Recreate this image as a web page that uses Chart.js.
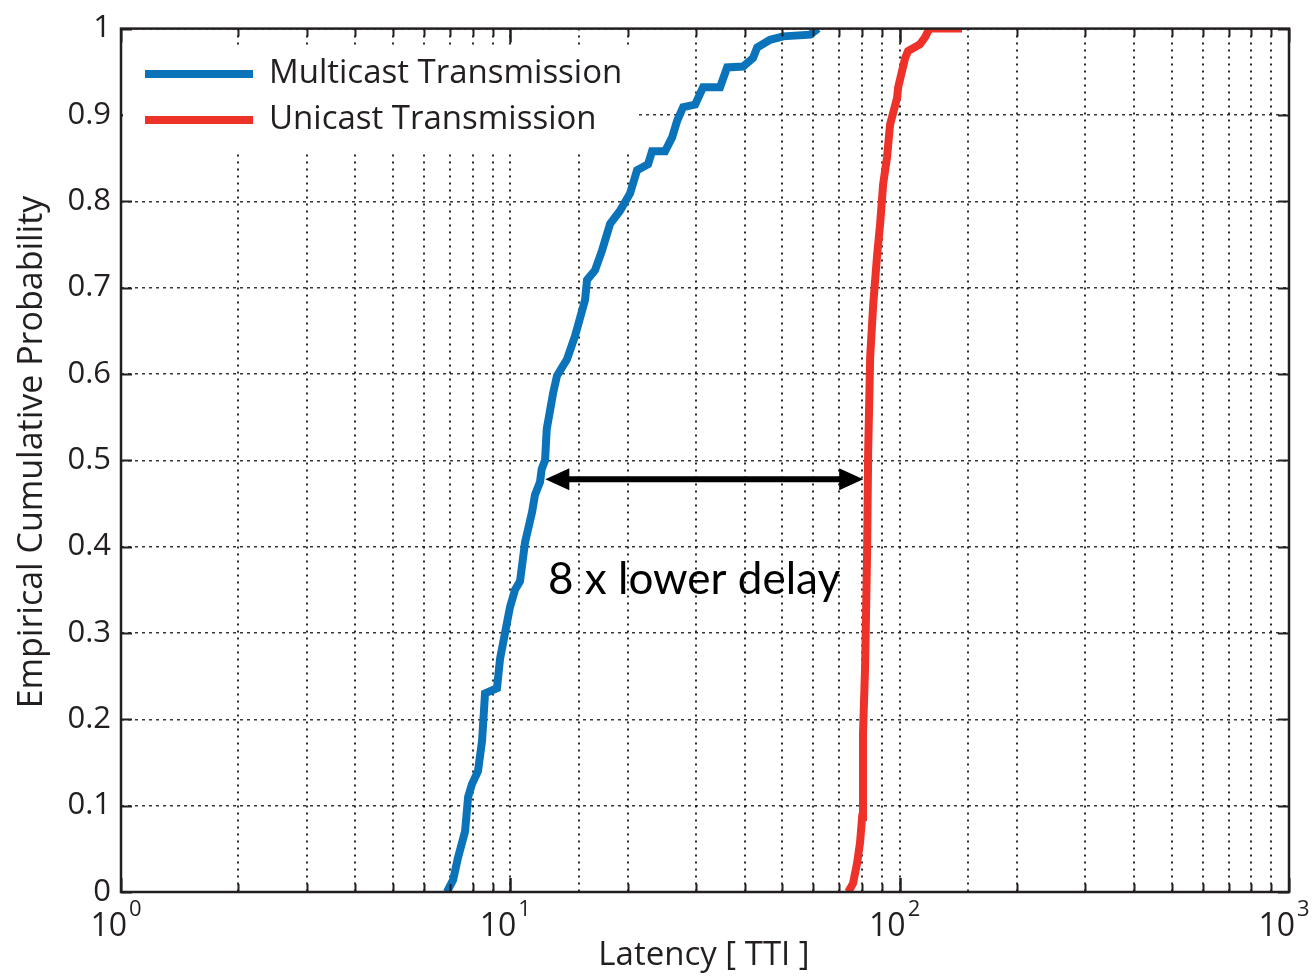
<!DOCTYPE html>
<html>
<head>
<meta charset="utf-8">
<title>Latency CDF</title>
<script src="https://cdn.jsdelivr.net/npm/chart.js@4.4.1/dist/chart.umd.min.js"></script>
<style>
  html, body { margin: 0; padding: 0; background: #ffffff; }
  #wrap { width: 1316px; height: 978px; position: relative; }
</style>
</head>
<body>
<div id="wrap"><canvas id="cdfChart" width="1316" height="978"></canvas></div>
<script>
"use strict";

// ============================================
// DATA
// ============================================
var multicastLatency = [6.87, 7.13, 7.34, 7.65, 7.79, 7.97, 8.26, 8.46, 8.61, 9.24,
  9.41, 9.69, 9.98, 10.28, 10.59, 10.91, 11.37, 11.57, 11.92, 12.04,
  12.28, 12.40, 12.88, 13.18, 13.98, 14.66, 15.56, 15.74, 16.50, 17.20,
  18.04, 19.13, 20.30, 21.16, 22.58, 23.12, 24.97, 26.03, 26.81, 27.78,
  29.83, 31.26, 34.57, 36.04, 39.61, 42.03, 43.04, 46.47, 50.17, 58.87, 61.73];
var multicastProb = [0, 0.014, 0.04, 0.07, 0.11, 0.125, 0.14, 0.175, 0.23, 0.236,
  0.27, 0.30, 0.33, 0.35, 0.36, 0.405, 0.44, 0.46, 0.475, 0.49,
  0.50, 0.536, 0.578, 0.598, 0.617, 0.644, 0.686, 0.709, 0.72, 0.743,
  0.774, 0.789, 0.809, 0.836, 0.843, 0.858, 0.858, 0.874, 0.893, 0.909,
  0.912, 0.932, 0.932, 0.955, 0.956, 0.966, 0.978, 0.987, 0.991, 0.993, 1.0];

var unicastLatency = [73.8, 75.9, 77.7, 79.1, 80.1, 80.5, 81.5, 82.5, 83.0, 84.0,
  85.5, 87.5, 89.1, 90.7, 92.8, 94.5, 98.5, 99.1, 103.3, 105.1,
  112.8, 116.2, 118.3, 119.7, 144.6];
var unicastProb = [0, 0.01, 0.033, 0.057, 0.087, 0.183, 0.26, 0.395, 0.51, 0.62,
  0.68, 0.737, 0.774, 0.82, 0.851, 0.889, 0.92, 0.932, 0.966, 0.974,
  0.982, 0.99, 0.997, 1.0, 1.0];

var xDecades = [1, 10, 100, 1000];
var xExponents = ["0", "1", "2", "3"];
var yTicks = [0, 0.1, 0.2, 0.3, 0.4, 0.5, 0.6, 0.7, 0.8, 0.9, 1];

var seriesNames = ["Multicast Transmission", "Unicast Transmission"];
var seriesColors = ["#0b73ba", "#ee3229"];

// arrow between the two curves at the median and its caption
var arrowLevel = 0.478;
var arrowFrom = 12.3;
var arrowTo = 80.6;
var captionText = "8 x lower delay";
var captionAt = { x: 12.5, y: 0.362 };

var INK = "#231f20";
var AXIS_FONT = "'Open Sans', 'Noto Sans', sans-serif";

function toPoints(xs, ys) {
  return xs.map(function (x, i) {
    return { x: x, y: ys[i] };
  });
}

// ============================================
// PLUGIN - frame, inward ticks, labels, legend, arrow
// ============================================
var decorPlugin = {
  id: "decor",
  afterDraw: function (chart) {
    var ctx = chart.ctx;
    var area = chart.chartArea;
    var xs = chart.scales.x;
    var ys = chart.scales.y;

    ctx.save();

    // inward tick marks, bottom and top
    ctx.strokeStyle = INK;
    ctx.lineWidth = 2;
    for (var d = 0; d < 3; d++) {
      for (var m = 1; m <= 10; m++) {
        var v = Math.pow(10, d) * m;
        var px = Math.round(xs.getPixelForValue(v)) + 0.5;
        var len = (m === 1 || m === 10) ? 14 : 8;
        ctx.beginPath();
        ctx.moveTo(px, area.bottom);
        ctx.lineTo(px, area.bottom - len);
        ctx.moveTo(px, area.top);
        ctx.lineTo(px, area.top + len);
        ctx.stroke();
      }
    }
    // inward tick marks, left and right
    yTicks.forEach(function (t) {
      var py = Math.round(ys.getPixelForValue(t)) + 0.5;
      ctx.beginPath();
      ctx.moveTo(area.left, py);
      ctx.lineTo(area.left + 11, py);
      ctx.moveTo(area.right, py);
      ctx.lineTo(area.right - 11, py);
      ctx.stroke();
    });

    // plot frame
    ctx.lineWidth = 2.5;
    ctx.strokeRect(area.left, area.top, area.right - area.left, area.bottom - area.top);

    // x tick labels as powers of ten
    ctx.fillStyle = INK;
    ctx.textBaseline = "alphabetic";
    xDecades.forEach(function (v, i) {
      var px = xs.getPixelForValue(v);
      ctx.font = "32px " + AXIS_FONT;
      ctx.textAlign = "right";
      ctx.fillText("10", px + 6, 936);
      ctx.font = "22px " + AXIS_FONT;
      ctx.textAlign = "left";
      ctx.fillText(xExponents[i], px + 8, 916);
    });

    // axis titles
    ctx.font = "33px " + AXIS_FONT;
    ctx.textAlign = "center";
    ctx.textBaseline = "middle";
    ctx.fillText("Latency [ TTI ]", 704, 956);
    ctx.save();
    ctx.translate(32, 452);
    ctx.rotate(-Math.PI / 2);
    ctx.font = "34px " + AXIS_FONT;
    ctx.fillText("Empirical Cumulative Probability", 0, 0);
    ctx.restore();

    // legend box
    ctx.fillStyle = "#ffffff";
    ctx.fillRect(area.left + 2, 46, 514, 106);
    seriesNames.forEach(function (name, i) {
      var ly = 74 + i * 46;
      ctx.strokeStyle = seriesColors[i];
      ctx.lineWidth = 8;
      ctx.beginPath();
      ctx.moveTo(145, ly);
      ctx.lineTo(253, ly);
      ctx.stroke();
      ctx.fillStyle = INK;
      ctx.font = "33px " + AXIS_FONT;
      ctx.textAlign = "left";
      ctx.textBaseline = "middle";
      ctx.fillText(name, 269, ly);
    });

    // double headed arrow
    var ay = ys.getPixelForValue(arrowLevel);
    var ax1 = xs.getPixelForValue(arrowFrom);
    var ax2 = xs.getPixelForValue(arrowTo);
    var head = 24;
    ctx.strokeStyle = "#000000";
    ctx.fillStyle = "#000000";
    ctx.lineWidth = 6;
    ctx.beginPath();
    ctx.moveTo(ax1 + head - 2, ay);
    ctx.lineTo(ax2 - head + 2, ay);
    ctx.stroke();
    ctx.beginPath();
    ctx.moveTo(ax1, ay);
    ctx.lineTo(ax1 + head, ay - 11);
    ctx.lineTo(ax1 + head, ay + 11);
    ctx.closePath();
    ctx.fill();
    ctx.beginPath();
    ctx.moveTo(ax2, ay);
    ctx.lineTo(ax2 - head, ay - 11);
    ctx.lineTo(ax2 - head, ay + 11);
    ctx.closePath();
    ctx.fill();

    // caption
    ctx.font = "44px Lato, 'Open Sans', sans-serif";
    ctx.textAlign = "left";
    ctx.textBaseline = "middle";
    ctx.fillText(captionText, xs.getPixelForValue(captionAt.x), ys.getPixelForValue(captionAt.y));

    ctx.restore();
  }
};

// ============================================
// CHART.JS - CDF chart
// ============================================
var ctx1 = document.getElementById("cdfChart");
new Chart(ctx1, {
  type: "line",
  data: {
    datasets: [
      {
        label: seriesNames[0],
        data: toPoints(multicastLatency, multicastProb),
        borderColor: seriesColors[0],
        borderWidth: 8,
        pointRadius: 0,
        tension: 0,
        fill: false,
        borderJoinStyle: "miter"
      },
      {
        label: seriesNames[1],
        data: toPoints(unicastLatency, unicastProb),
        borderColor: seriesColors[1],
        borderWidth: 8,
        pointRadius: 0,
        tension: 0,
        fill: false,
        borderJoinStyle: "miter"
      }
    ]
  },
  options: {
    responsive: false,
    animation: false,
    events: [],
    layout: { padding: { top: 24, right: 27, left: 0, bottom: 0 } },
    plugins: {
      legend: { display: false },
      tooltip: { enabled: false }
    },
    scales: {
      x: {
        type: "logarithmic",
        min: 1,
        max: 1000,
        ticks: { display: false, autoSkip: false },
        grid: {
          color: "rgba(20, 20, 20, 0.9)",
          lineWidth: 2,
          drawTicks: false
        },
        border: { display: false, dash: [2, 5] },
        afterFit: function (scale) {
          scale.height = 86;
        }
      },
      y: {
        type: "linear",
        min: 0,
        max: 1,
        afterBuildTicks: function (scale) {
          scale.ticks = yTicks.map(function (t) {
            return { value: t };
          });
        },
        ticks: {
          color: INK,
          padding: 10,
          font: { family: "'Open Sans', 'Noto Sans', sans-serif", size: 31 },
          callback: function (value) {
            return String(Math.round(value * 10) / 10);
          }
        },
        grid: {
          color: "rgba(20, 20, 20, 0.85)",
          lineWidth: 1.5,
          drawTicks: false
        },
        border: { display: false, dash: [3, 4] },
        afterFit: function (scale) {
          scale.width = 121;
        }
      }
    }
  },
  plugins: [decorPlugin]
});
</script>
</body>
</html>
